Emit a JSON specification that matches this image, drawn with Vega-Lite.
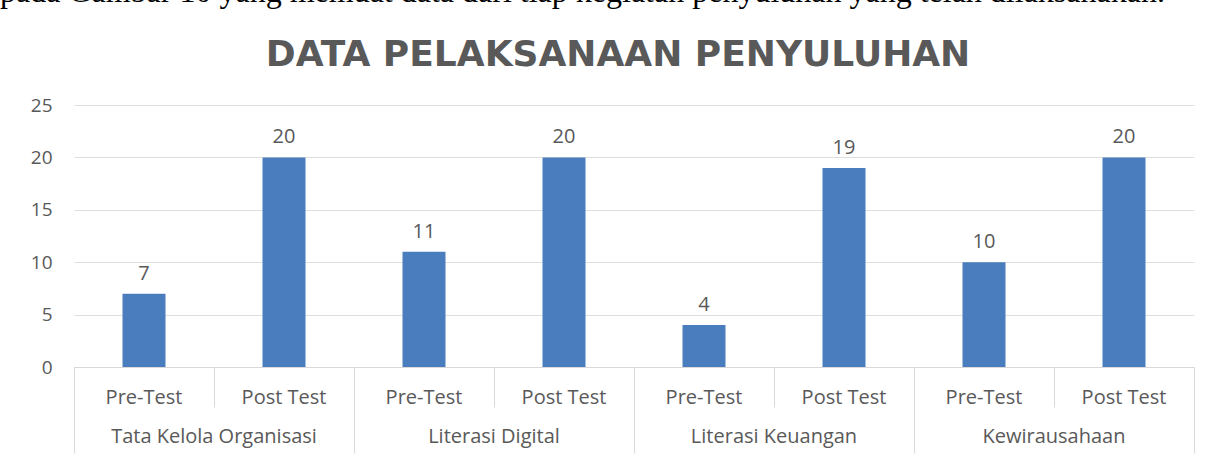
{
  "$schema": "https://vega.github.io/schema/vega-lite/v6.json",
  "background": "white",
  "padding": {"left": 0, "top": -24, "right": 0, "bottom": 0},
  "title": {
    "text": "pada Gambar 10 yang memuat data dari tiap kegiatan penyuluhan yang telah dilaksanakan.",
    "anchor": "start",
    "frame": "bounds",
    "font": "Liberation Serif",
    "fontSize": 32,
    "fontWeight": "normal",
    "color": "#000000",
    "offset": 28
  },
  "config": {
    "view": {"stroke": null},
    "concat": {"spacing": 0}
  },
  "vconcat": [
    {
      "width": 1120,
      "height": 262,
      "title": {
        "text": "DATA PELAKSANAAN PENYULUHAN",
        "anchor": "middle",
        "frame": "group",
        "dx": -16,
        "font": "DejaVu Sans",
        "fontSize": 36,
        "fontWeight": "bold",
        "color": "#595959",
        "offset": 22
      },
      "data": {
        "values": [
          {"key": "Tata Kelola Organisasi|Pre-Test", "group": "Tata Kelola Organisasi", "test": "Pre-Test", "value": 7},
          {"key": "Tata Kelola Organisasi|Post Test", "group": "Tata Kelola Organisasi", "test": "Post Test", "value": 20},
          {"key": "Literasi Digital|Pre-Test", "group": "Literasi Digital", "test": "Pre-Test", "value": 11},
          {"key": "Literasi Digital|Post Test", "group": "Literasi Digital", "test": "Post Test", "value": 20},
          {"key": "Literasi Keuangan|Pre-Test", "group": "Literasi Keuangan", "test": "Pre-Test", "value": 4},
          {"key": "Literasi Keuangan|Post Test", "group": "Literasi Keuangan", "test": "Post Test", "value": 19},
          {"key": "Kewirausahaan|Pre-Test", "group": "Kewirausahaan", "test": "Pre-Test", "value": 10},
          {"key": "Kewirausahaan|Post Test", "group": "Kewirausahaan", "test": "Post Test", "value": 20}
        ]
      },
      "encoding": {
        "y": {
          "field": "value",
          "type": "quantitative",
          "scale": {"domain": [0, 25], "nice": false},
          "axis": {
            "title": null,
            "values": [0, 5, 10, 15, 20, 25],
            "grid": true,
            "gridColor": "#dedede",
            "domain": false,
            "ticks": false,
            "labelPadding": 22,
            "labelFont": "Open Sans",
            "labelFontSize": 19,
            "labelColor": "#595959",
            "minExtent": 74
          }
        }
      },
      "layer": [
        {
          "mark": {"type": "bar", "color": "#4a7dbe", "width": {"band": 0.307}},
          "encoding": {
            "x": {
              "field": "key",
              "type": "nominal",
              "sort": null,
              "scale": {"paddingInner": 0, "paddingOuter": 0},
              "axis": {
                "title": null,
                "orient": "bottom",
                "bandPosition": 0,
                "labelExpr": "split(datum.label, '|')[1]",
                "labelAngle": 0,
                "labelAlign": "center",
                "labelBaseline": "alphabetic",
                "labelFont": "Open Sans",
                "labelFontSize": 20,
                "labelColor": "#595959",
                "labelPadding": -4,
                "labelOverlap": false,
                "labelBound": false,
                "labelFlush": false,
                "tickSize": 40,
                "tickColor": "#d9d9d9",
                "domainColor": "#d9d9d9",
                "grid": false
              }
            }
          }
        },
        {
          "mark": {"type": "text", "baseline": "alphabetic", "dy": -14, "font": "Open Sans", "fontSize": 20, "color": "#595959"},
          "encoding": {
            "x": {"field": "key", "type": "nominal", "sort": null, "scale": {"paddingInner": 0, "paddingOuter": 0}, "axis": null},
            "text": {"field": "value", "type": "quantitative"}
          }
        },
        {
          "mark": {"type": "bar", "opacity": 0, "width": {"band": 0.307}},
          "encoding": {
            "x": {
              "field": "key",
              "type": "nominal",
              "sort": null,
              "scale": {"paddingInner": 0, "paddingOuter": 0},
              "axis": {
                "title": null,
                "orient": "bottom",
                "bandPosition": 1,
                "domain": false,
                "labelExpr": "split(datum.label, '|')[1] == 'Pre-Test' ? split(datum.label, '|')[0] : ''",
                "labelOffset": 70,
                "labelLimit": 500,
                "labelAngle": 0,
                "labelAlign": "center",
                "labelBaseline": "alphabetic",
                "labelFont": "Open Sans",
                "labelFontSize": 20,
                "labelColor": "#595959",
                "labelPadding": -11,
                "labelOverlap": false,
                "labelBound": false,
                "labelFlush": false,
                "tickSize": 86,
                "tickColor": "#d9d9d9",
                "tickOpacity": {"condition": {"test": "indexof(datum.value, 'Post Test') >= 0", "value": 1}, "value": 0},
                "grid": false
              }
            }
          }
        },
        {
          "mark": {"type": "bar", "opacity": 0, "width": {"band": 0.307}},
          "encoding": {
            "x": {
              "field": "key",
              "type": "nominal",
              "sort": null,
              "scale": {"paddingInner": 0, "paddingOuter": 0},
              "axis": {
                "title": null,
                "orient": "bottom",
                "bandPosition": 0,
                "domain": false,
                "labels": false,
                "tickSize": 86,
                "tickColor": "#d9d9d9",
                "tickOpacity": {"condition": {"test": "datum.value == 'Tata Kelola Organisasi|Pre-Test'", "value": 1}, "value": 0},
                "grid": false
              }
            }
          }
        }
      ],
      "resolve": {"axis": {"x": "independent"}}
    }
  ]
}
